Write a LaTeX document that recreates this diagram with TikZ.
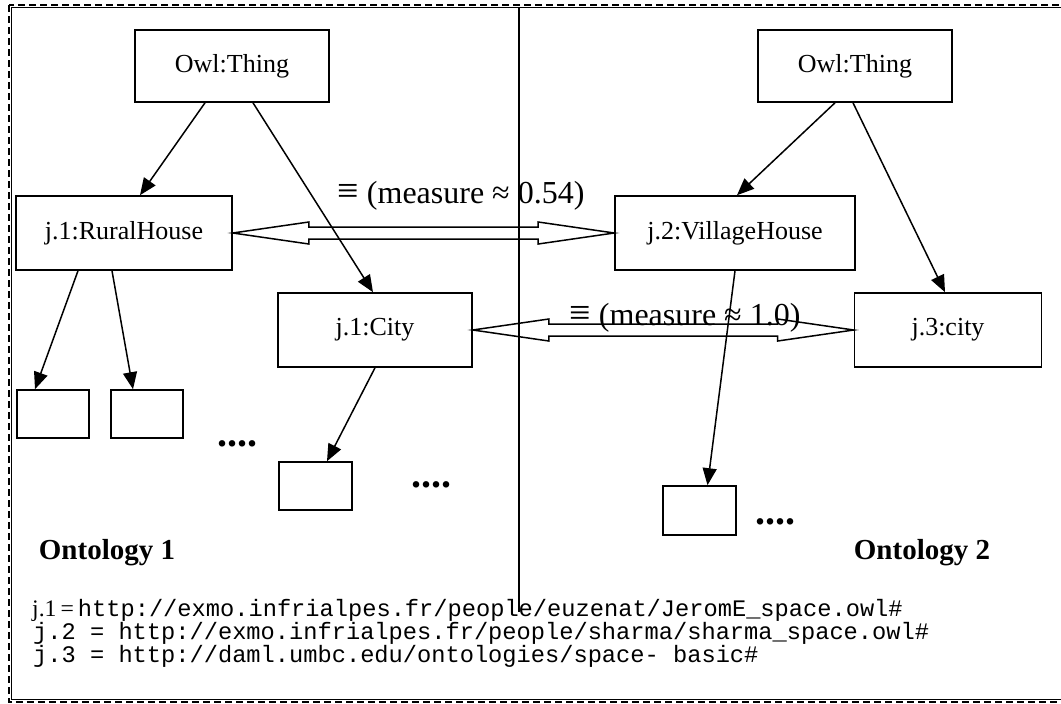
\documentclass[tikz,border=0pt]{standalone}
\usepackage{fontspec}
\setmainfont{Liberation Serif}
\setmonofont{Liberation Mono}
\usetikzlibrary{arrows.meta,calc}
\newcommand\hollowdbl[2]{%
  \draw[dbl] (#1) -- ($(#1)+(76,-11)$) -- ($(#1)+(76,-6)$) -- ($(#2)+(-76,-6)$)
    -- ($(#2)+(-76,-11)$) -- (#2) -- ($(#2)+(-76,11)$) -- ($(#2)+(-76,6)$)
    -- ($(#1)+(76,6)$) -- ($(#1)+(76,11)$) -- cycle;}
\newcommand\eqv{{\fontsize{38}{38}\selectfont ≡}}
\begin{document}
\begin{tikzpicture}[x=1pt,y=-1pt,
  box/.style={draw,line width=1.6pt,inner sep=0pt,font=\fontsize{26}{30}\selectfont},
  conn/.style={line width=1.5pt,-{Triangle[length=17pt,width=14pt]}},
  dbl/.style={line width=1.5pt,line join=miter},
  meas/.style={font=\fontsize{32}{36}\selectfont,inner sep=0pt,anchor=base},
  onto/.style={font=\fontsize{29}{32}\selectfont\bfseries,inner sep=0pt,anchor=base},
  dotsty/.style={font=\fontsize{40}{40}\selectfont\bfseries,inner sep=0pt,anchor=base},
  url/.style={font=\fontsize{23.7}{23}\selectfont\ttfamily,inner sep=0pt,anchor=base west,
    text height=14pt,text depth=4pt},
  divider/.style={line width=1.4pt}]
\useasboundingbox (0,0) rectangle (1061,704);
\fill[white] (0,0) rectangle (1061,704);
% frame
\draw[line width=2.8pt,dash pattern=on 7pt off 4pt] (9,5) rectangle (1080,702);
\draw[line width=1pt] (11.8,7.8) rectangle (1080,699.2);
% divider
\coordinate (divTop) at (519,7);
\coordinate (divBot) at (519,612);
\draw[divider] (divTop) -- (divBot);
% nodes
\node[box,minimum width=194pt,minimum height=72pt] (owlL) at (232,66) {Owl:Thing};
\node[box,minimum width=194pt,minimum height=72pt] (owlR) at (855,66) {Owl:Thing};
\node[box,minimum width=216pt,minimum height=74pt] (rural) at (124,233) {j.1:RuralHouse};
\node[box,minimum width=240pt,minimum height=74pt] (village) at (735,233) {j.2:VillageHouse};
\node[box,minimum width=194pt,minimum height=74pt] (city) at (375,330) {j.1:City};
\node[box,minimum width=187pt,minimum height=74pt] (city3) at (948,330) {j.3:city};
\node[box,minimum width=72pt,minimum height=48pt] (b1) at (53,414) {};
\node[box,minimum width=72pt,minimum height=48pt] (b2) at (147,414) {};
\node[box,minimum width=73pt,minimum height=48pt] (b3) at (315.5,486) {};
\node[box,minimum width=73pt,minimum height=49pt] (b4) at (699.5,510.5) {};
% connectors
\draw[conn] ($(owlL.south)+(-27,0)$) -- ($(rural.north)+(16,0)$);
\draw[conn] ($(owlL.south)+(21,0)$) -- ($(city.north)+(-2,0)$);
\draw[conn] ($(rural.south)+(-46,0)$) -- ($(b1.north)+(-18,0)$);
\draw[conn] ($(rural.south)+(-12,0)$) -- ($(b2.north)+(-14,0)$);
\draw[conn] (city.south) -- ($(b3.north)+(11.5,0)$);
\draw[conn] ($(owlR.south)+(-20,0)$) -- ($(village.north)+(2,0)$);
\draw[conn] ($(owlR.south)+(-2,0)$) -- ($(city3.north)+(-3,0)$);
\draw[conn] (village.south) -- ($(b4.north)+(8,0)$);
% equivalence arrows
\hollowdbl{rural.east}{village.west}
\hollowdbl{city.east}{city3.west}
\node[meas] (lab1) at (461,203) {\eqv\ (measure ≈ 0.54)};
\node[meas] (lab2) at (685,325) {\eqv\ (measure ≈ 1.0)};
% dots
\node[dotsty] (d1) at (237,446) {....};
\node[dotsty] (d2) at (431,487) {....};
\node[dotsty] (d3) at (775,524) {....};
% ontology labels
\node[onto] (o1) at (107,559) {Ontology 1};
\node[onto] (o2) at (922,559) {Ontology 2};
% namespaces
\node[url] (n1) at (32,616) {{\rmfamily j.1\hspace{4pt}=\hspace{4pt}}http://exmo.infrialpes.fr/people/euzenat/JeromE\_space.owl\#};
\node[url] (n2) at (33,639) {j.2 = http://exmo.infrialpes.fr/people/sharma/sharma\_space.owl\#};
\node[url] (n3) at (33,662) {j.3 = http://daml.umbc.edu/ontologies/space- basic\#};
\end{tikzpicture}
\end{document}
